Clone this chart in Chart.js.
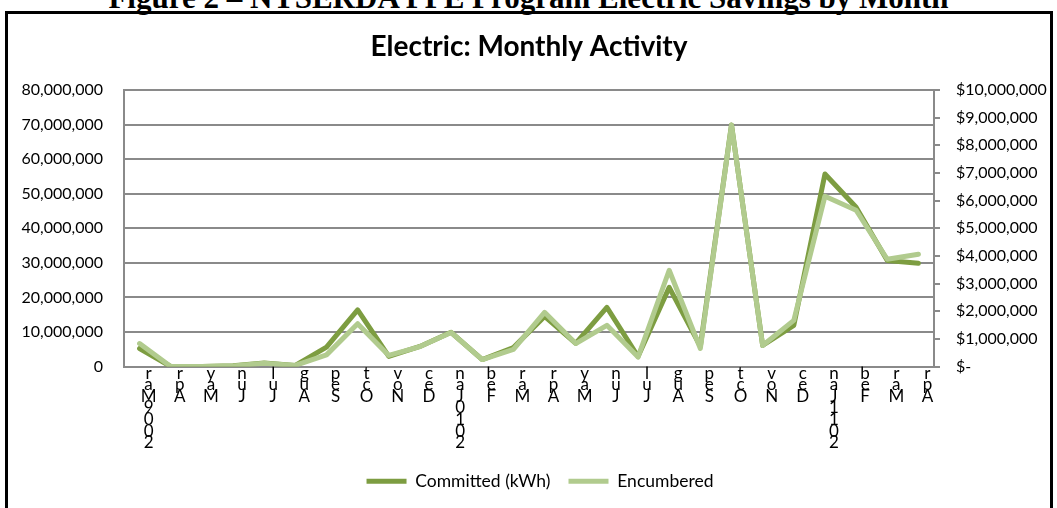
<!DOCTYPE html>
<html>
<head>
<meta charset="utf-8">
<script src="https://cdn.jsdelivr.net/npm/chart.js@4.4.1/dist/chart.umd.min.js"></script>
<style>
  html, body { margin: 0; padding: 0; background: #fff; }
  body { width: 1057px; height: 508px; overflow: hidden; position: relative; }
  #cap { position: absolute; left: 0; width: 1057px; top: -18px; text-align: center;
         font: bold 31px "Liberation Serif", "Times New Roman", serif; line-height: 31px; color: #000; white-space: nowrap; }
  #box { position: absolute; left: 5px; top: 11px; width: 1042px; height: 520px; border: 3px solid #000; }
  #wrap { position: absolute; left: 0; top: 0; width: 1042px; height: 494px; }
</style>
</head>
<body>
<div id="cap">Figure 2 – NYSERDA PPE Program Electric Savings by Month</div>
<div id="box"><div id="wrap"><canvas id="c"></canvas></div></div>
<script>
// ---- data ----
const categories = ["Mar 2009","Apr 2009","May 2009","Jun 2009","Jul 2009","Aug 2009","Sep 2009","Oct 2009","Nov 2009","Dec 2009",
  "Jan 2010","Feb 2010","Mar 2010","Apr 2010","May 2010","Jun 2010","Jul 2010","Aug 2010","Sep 2010","Oct 2010","Nov 2010","Dec 2010",
  "Jan 2011","Feb 2011","Mar 2011","Apr 2011"];
// tick labels as they are displayed (characters stacked top to bottom)
const tickLabels = ["raM9002","rpA","yaM","nuJ","luJ","guA","peS","tcO","voN","ceD",
  "naJ0102","beF","raM","rpA","yaM","nuJ","luJ","guA","peS","tcO","voN","ceD",
  "naJ1102","beF","raM","rpA"];
const committedKWh = [5200000, 0, 0, 200000, 1000000, 300000, 5600000, 16400000, 2900000, 5800000,
  9900000, 2000000, 5500000, 14500000, 6700000, 17100000, 2900000, 22900000, 5800000, 69900000, 6100000, 11900000,
  55700000, 46100000, 30700000, 29900000];
const encumbered = [830000, 0, 0, 20000, 120000, 40000, 420000, 1550000, 400000, 720000,
  1230000, 250000, 620000, 1960000, 830000, 1490000, 340000, 3480000, 650000, 8730000, 760000, 1670000,
  6160000, 5650000, 3880000, 4060000];
const seriesNames = ["Committed (kWh)", "Encumbered"];
const leftTicks = { min: 0, max: 80000000, step: 10000000 };
const rightTicks = { min: 0, max: 10000000, step: 1000000 };
const titleText = "Electric: Monthly Activity";

// ---- style ----
const FONT = "Lato, 'Open Sans', sans-serif";
const DARK = "#7d9d41";
const LIGHT = "#b1cb8e";
const GRID = "#8a8a8a";

Chart.defaults.color = "#000";
Chart.defaults.font.family = FONT;

const fmt = v => Math.round(v).toLocaleString("en-US");

// shift the legend block slightly right, as in the reference
const legendShift = {
  id: "legendShift",
  afterLayout(chart) { if (chart.legend) { chart.legend.left += 22; } }
};

new Chart(document.getElementById("c"), {
  type: "line",
  data: {
    labels: categories,
    datasets: [
      { label: seriesNames[0], data: committedKWh, yAxisID: "y", borderColor: DARK, backgroundColor: DARK,
        borderWidth: 5, pointRadius: 0, tension: 0, borderCapStyle: "round", borderJoinStyle: "round", order: 1 },
      { label: seriesNames[1], data: encumbered, yAxisID: "y1", borderColor: LIGHT, backgroundColor: LIGHT,
        borderWidth: 5, pointRadius: 0, tension: 0, borderCapStyle: "round", borderJoinStyle: "round", order: 0 }
    ]
  },
  plugins: [legendShift],
  options: {
    responsive: true,
    maintainAspectRatio: false,
    animation: false,
    events: [],
    layout: { padding: { left: 0, right: 0, top: 0, bottom: 8 } },
    plugins: {
      title: { display: true, text: titleText, color: "#000",
        font: { family: FONT, size: 28, weight: "bold", lineHeight: 1.2 },
        padding: { top: 16.2, bottom: 26.2 } },
      legend: { display: true, position: "bottom",
        labels: { usePointStyle: true, pointStyle: "line", pointStyleWidth: 40, color: "#000",
          font: { family: FONT, size: 17.5 }, padding: 18,
          sort: (a, b) => a.datasetIndex - b.datasetIndex } },
      tooltip: { enabled: false }
    },
    scales: {
      x: {
        type: "category", offset: true,
        grid: { display: true, drawOnChartArea: false, drawTicks: false },
        border: { display: true, color: GRID, width: 2 },
        ticks: { autoSkip: false, maxRotation: 0, minRotation: 0, padding: 1, labelOffset: 9,
          font: { family: FONT, size: 17, lineHeight: 0.68 }, color: "#000",
          callback: (v, i) => tickLabels[i].split("") },
        afterFit: s => { s.height = 88; }
      },
      y: {
        position: "left", min: leftTicks.min, max: leftTicks.max,
        grid: { color: GRID, lineWidth: 2, drawTicks: false },
        border: { display: true, color: GRID, width: 2 },
        ticks: { stepSize: leftTicks.step, padding: 21, color: "#000", font: { family: FONT, size: 16 },
          callback: v => v === 0 ? "0" : fmt(v) },
        afterFit: s => { s.width = 116; }
      },
      y1: {
        position: "right", min: rightTicks.min, max: rightTicks.max,
        grid: { drawOnChartArea: false, drawTicks: true, tickLength: 6, color: GRID, lineWidth: 2 },
        border: { display: true, color: GRID, width: 2 },
        ticks: { stepSize: rightTicks.step, padding: 16, color: "#000", font: { family: FONT, size: 16 },
          callback: v => v === 0 ? "$-" : "$" + fmt(v) },
        afterFit: s => { s.width = 116; }
      }
    }
  }
});
</script>
</body>
</html>
